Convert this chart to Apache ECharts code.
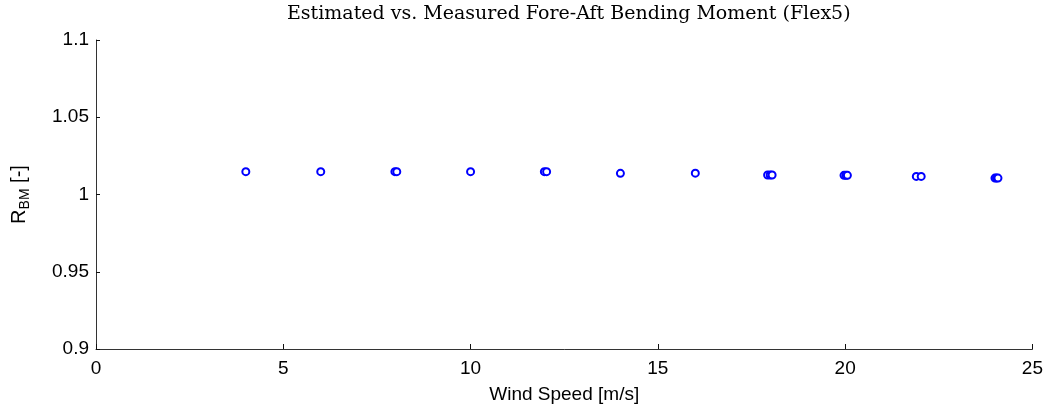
<!DOCTYPE html>
<html>
<head>
<meta charset="utf-8">
<script src="https://cdn.jsdelivr.net/npm/echarts@6/dist/echarts.min.js"></script>
<style>html,body{margin:0;padding:0;background:#fff;}#c{width:1046px;height:412px;}</style>
</head>
<body>
<div id="c"></div>
<script>
var titleText = 'Estimated vs. Measured Fore-Aft Bending Moment (Flex5)';
var windSpeed = [4, 6, 7.98, 8.03, 10, 11.97, 12.03, 14, 16, 17.93, 18.0, 18.05, 19.97, 20.02, 20.06, 21.9, 22.03, 24.0, 24.04, 24.08];
var ratioBM   = [1.0148, 1.0148, 1.0148, 1.0148, 1.0148, 1.0148, 1.0148, 1.0137, 1.0138, 1.0126, 1.0126, 1.0126, 1.0124, 1.0124, 1.0124, 1.0117, 1.0117, 1.0106, 1.0106, 1.0106];
var xTicks = [0, 5, 10, 15, 20, 25];
var yTicks = [0.9, 0.95, 1, 1.05, 1.1];

var points = windSpeed.map(function (x, i) { return [x, ratioBM[i]]; });
var chart = echarts.init(document.getElementById('c'));
chart.setOption({
  animation: false,
  backgroundColor: '#fff',
  title: {
    text: titleText, left: 282, top: 0,
    textStyle: {fontFamily: 'DejaVu Serif', fontSize: 19, fontWeight: 'normal', color: '#000'}
  },
  grid: {left: 96, right: 13, top: 40, bottom: 63},
  xAxis: {
    type: 'value', min: xTicks[0], max: xTicks[xTicks.length - 1], interval: 5,
    name: 'Wind Speed [m/s]', nameLocation: 'middle', nameGap: 36,
    nameTextStyle: {fontFamily: 'Liberation Sans', fontSize: 19, color: '#000'},
    axisLine: {lineStyle: {color: '#333', width: 1}},
    axisTick: {inside: true, length: 5, lineStyle: {color: '#111'}},
    axisLabel: {fontFamily: 'Liberation Sans', fontSize: 19, color: '#000', margin: 10},
    splitLine: {show: false}
  },
  yAxis: {
    type: 'value', min: yTicks[0], max: yTicks[yTicks.length - 1], interval: 0.05,
    name: '{a|R}{b|BM}{a| [-]}', nameLocation: 'middle', nameGap: 64, nameRotate: 90,
    nameTextStyle: {
      color: '#000',
      rich: {
        a: {fontFamily: 'Liberation Sans', fontSize: 20, color: '#000', lineHeight: 26},
        b: {fontFamily: 'Liberation Sans', fontSize: 14, color: '#000', verticalAlign: 'bottom', lineHeight: 13}
      }
    },
    axisLine: {show: true, lineStyle: {color: '#333', width: 1}},
    axisTick: {show: true, inside: true, length: 4, lineStyle: {color: '#111'}},
    axisLabel: {fontFamily: 'Liberation Sans', fontSize: 19, color: '#000', margin: 7,
      formatter: function (v) { return String(Math.round(v * 100) / 100); }},
    splitLine: {show: false}
  },
  series: [{
    type: 'scatter',
    data: points,
    symbol: 'emptyCircle',
    symbolSize: 7,
    itemStyle: {color: '#0000ff', borderColor: '#0000ff', borderWidth: 2.2, opacity: 1}
  }]
});
</script>
</body>
</html>
